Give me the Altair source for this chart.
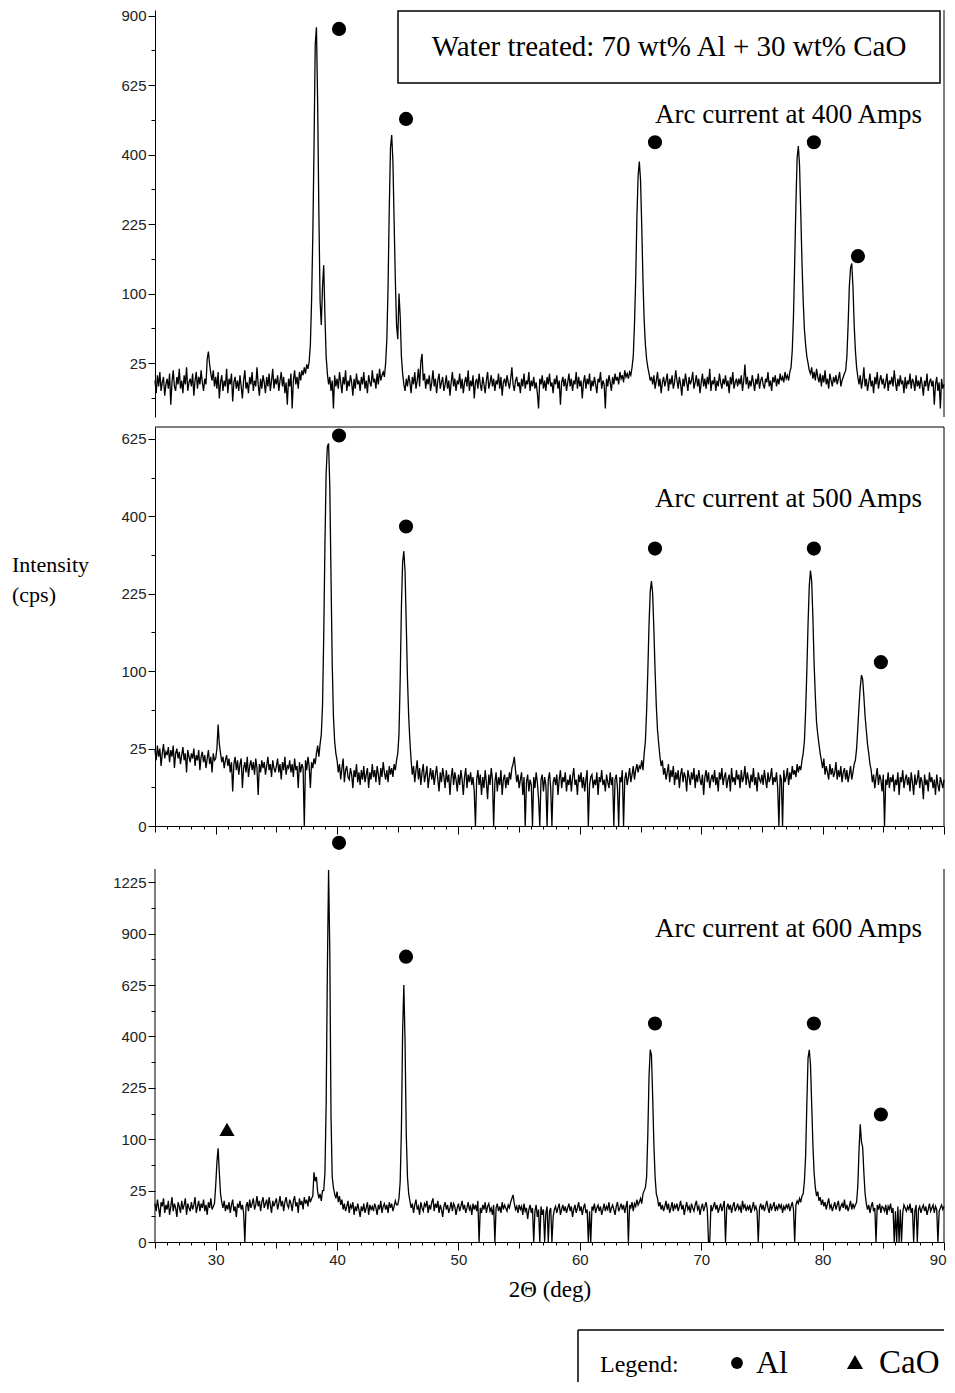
import altair as alt
import pandas as pd

# ---------------- data (counts per second, scan 25.0 .. 90.0 deg, step 0.1) ----------------
X_START = 25.0
X_STEP = 0.1

p1_counts = [
    14, 8, 17, 11, 19, 9, 13, 16, 7, 12,            # 25
    15, 10, 18, 4, 13, 20, 11, 9, 16, 12,           # 26
    21, 10, 14, 8, 17, 12, 22, 9, 13, 15,           # 27
    11, 18, 7, 14, 19, 10, 16, 12, 20, 13,          # 28
    9, 15, 12, 28, 34, 24, 18, 14, 20, 11,          # 29
    16, 10, 19, 6, 13, 17, 9, 14, 11, 21,           # 30
    8, 15, 12, 18, 5, 13, 16, 10, 14, 9,            # 31
    17, 11, 6, 14, 20, 10, 13, 8, 16, 12,           # 32
    19, 9, 14, 11, 22, 12, 7, 15, 10, 17,           # 33
    13, 8, 16, 11, 18, 9, 14, 21, 10, 15,           # 34
    12, 17, 9, 14, 19, 11, 16, 8, 13, 4,            # 35
    15, 11, 18, 3, 14, 20, 12, 16, 10, 19,          # 36
    14, 20, 17, 22, 18, 24, 21, 26, 40, 90,         # 37
    200, 420, 780, 850, 560, 250, 90, 60, 110, 145, # 38
    70, 30, 18, 12, 16, 9, 14, 3, 17, 11,           # 39
    15, 10, 19, 13, 8, 16, 12, 20, 9, 14,           # 40
    11, 17, 13, 7, 15, 10, 18, 12, 14, 9,           # 41
    16, 12, 19, 10, 14, 8, 17, 13, 11, 20,          # 42
    13, 15, 10, 18, 12, 21, 14, 17, 19, 16,         # 43
    25, 45, 110, 260, 420, 458, 380, 230, 120, 60,  # 44
    45, 100, 70, 30, 18, 12, 9, 15, 11, 17,         # 45
    13, 8, 16, 12, 19, 10, 14, 21, 11, 26,          # 46
    32, 14, 18, 10, 15, 12, 17, 9, 13, 20,          # 47
    11, 15, 8, 14, 18, 10, 13, 16, 9, 12,           # 48
    17, 10, 14, 7, 13, 19, 11, 15, 9, 14,           # 49
    12, 18, 10, 15, 8, 13, 16, 11, 20, 9,           # 50
    14, 11, 17, 6, 13, 15, 10, 18, 12, 9,           # 51
    16, 12, 8, 14, 19, 10, 13, 17, 11, 15,          # 52
    9, 14, 12, 18, 10, 16, 7, 13, 15, 11,           # 53
    17, 13, 10, 15, 22, 12, 9, 14, 16, 11,          # 54
    13, 8, 15, 11, 18, 10, 14, 12, 19, 9,           # 55
    14, 11, 16, 10, 13, 8, 3, 15, 12, 17,           # 56
    10, 14, 9, 16, 12, 18, 11, 13, 8, 15,           # 57
    12, 17, 10, 14, 4, 13, 16, 11, 15, 9,           # 58
    13, 18, 11, 15, 9, 14, 12, 19, 10, 16,          # 59
    11, 14, 6, 13, 17, 10, 15, 12, 18, 9,           # 60
    14, 11, 16, 12, 8, 15, 13, 19, 10, 14,          # 61
    12, 3, 15, 11, 17, 13, 9, 16, 12, 18,           # 62
    14, 16, 12, 19, 15, 17, 13, 20, 16, 18,         # 63
    15, 19, 17, 22, 30, 60, 120, 240, 340, 380,     # 64
    330, 220, 120, 65, 40, 28, 22, 18, 14, 16,      # 65
    12, 17, 10, 14, 19, 11, 15, 8, 13, 16,          # 66
    11, 14, 18, 9, 15, 12, 17, 10, 13, 20,          # 67
    14, 10, 16, 12, 7, 15, 11, 18, 13, 9,           # 68
    16, 12, 14, 19, 10, 13, 17, 11, 15, 8,          # 69
    13, 18, 11, 15, 10, 16, 12, 21, 9, 14,          # 70
    12, 16, 9, 14, 11, 18, 13, 10, 15, 12,          # 71
    17, 11, 14, 8, 16, 12, 19, 10, 13, 15,          # 72
    11, 15, 12, 17, 9, 14, 24, 12, 16, 10,          # 73
    14, 11, 17, 13, 9, 15, 12, 18, 10, 14,          # 74
    16, 12, 10, 15, 13, 19, 11, 14, 9, 16,          # 75
    13, 17, 11, 15, 12, 18, 14, 16, 13, 19,         # 76
    15, 17, 14, 19, 22, 35, 70, 150, 270, 390,      # 77
    425, 370, 250, 150, 90, 55, 40, 30, 25, 20,     # 78
    18, 22, 15, 19, 14, 21, 16, 13, 18, 11,         # 79
    17, 13, 20, 12, 15, 10, 18, 14, 11, 16,         # 80
    13, 17, 12, 15, 19, 11, 14, 16, 18, 20,         # 81
    30, 60, 110, 140, 148, 110, 60, 35, 22, 16,     # 82
    12, 17, 10, 14, 22, 11, 15, 9, 13, 18,          # 83
    11, 14, 8, 16, 12, 19, 10, 14, 17, 12,          # 84
    15, 10, 13, 18, 9, 14, 12, 16, 11, 20,          # 85
    13, 9, 15, 11, 17, 12, 14, 8, 16, 10,           # 86
    14, 12, 18, 10, 15, 13, 9, 17, 11, 14,          # 87
    10, 16, 12, 7, 14, 11, 18, 9, 13, 15,           # 88
    11, 14, 4, 12, 16, 9, 13, 3, 15, 10,            # 89
    12,                                             # 90
]

p2_counts = [
    24, 18, 27, 20, 25, 15, 22, 28, 19, 23,         # 25
    21, 26, 17, 24, 20, 27, 14, 22, 25, 19,         # 26
    23, 16, 21, 26, 18, 22, 12, 24, 20, 17,         # 27
    22, 19, 25, 15, 21, 18, 24, 13, 20, 23,         # 28
    17, 21, 14, 19, 24, 16, 20, 12, 22, 18,         # 29
    19, 25, 43, 28, 22, 17, 20, 14, 18, 21,         # 30
    15, 19, 12, 17, 5, 16, 20, 13, 18, 11,          # 31
    16, 19, 6, 14, 17, 12, 20, 10, 15, 18,          # 32
    13, 17, 11, 19, 14, 4, 16, 12, 18, 14,          # 33
    17, 11, 15, 20, 13, 16, 10, 18, 14, 12,         # 34
    15, 19, 12, 16, 9, 17, 13, 20, 11, 15,          # 35
    14, 18, 12, 16, 10, 19, 13, 15, 6, 17,          # 36
    12, 16, 14, 0, 18, 13, 20, 15, 6, 17,           # 37
    14, 19, 16, 22, 27, 20, 28, 35, 60, 150,        # 38
    330, 520, 600, 610, 480, 260, 110, 50, 30, 22,  # 39
    18, 12, 16, 9, 14, 19, 8, 13, 15, 10,           # 40
    9, 14, 11, 6, 13, 10, 16, 8, 12, 7,             # 41
    13, 9, 15, 8, 11, 14, 6, 12, 9, 16,             # 42
    10, 13, 8, 15, 11, 7, 14, 10, 17, 12,           # 43
    9, 13, 8, 15, 11, 14, 10, 16, 13, 18,           # 44
    22, 35, 90, 200, 290, 315, 270, 170, 90, 50,    # 45
    30, 18, 11, 15, 8, 13, 18, 9, 14, 7,            # 46
    12, 16, 8, 11, 15, 6, 10, 14, 9, 13,            # 47
    7, 11, 15, 9, 5, 12, 8, 14, 10, 6,              # 48
    13, 8, 11, 4, 10, 14, 7, 12, 9, 5,              # 49
    11, 7, 13, 9, 4, 10, 14, 6, 11, 8,              # 50
    12, 7, 10, 5, 0, 9, 13, 7, 11, 4,               # 51
    10, 6, 13, 8, 3, 11, 7, 14, 9, 0,               # 52
    8, 12, 5, 10, 7, 13, 4, 9, 11, 6,               # 53
    10, 7, 12, 9, 14, 16, 20, 13, 8, 11,            # 54
    6, 9, 12, 4, 10, 0, 8, 11, 5, 9,                # 55
    7, 0, 10, 6, 12, 8, 3, 0, 9, 11,                # 56
    5, 10, 7, 0, 9, 12, 6, 0, 8, 10,                # 57
    7, 11, 4, 9, 13, 6, 10, 8, 12, 5,               # 58
    9, 7, 11, 5, 10, 14, 7, 9, 4, 11,               # 59
    8, 12, 6, 10, 5, 9, 13, 0, 7, 10,               # 60
    11, 6, 9, 7, 12, 4, 10, 8, 13, 7,               # 61
    9, 5, 11, 8, 6, 12, 7, 10, 0, 9,                # 62
    11, 6, 0, 10, 8, 13, 0, 9, 12, 7,               # 63
    10, 14, 8, 11, 15, 9, 13, 16, 12, 15,           # 64
    14, 18, 13, 22, 30, 55, 100, 170, 230, 250,     # 65
    225, 160, 100, 60, 38, 28, 20, 15, 18, 11,      # 66
    14, 9, 12, 16, 8, 13, 10, 15, 7, 12,            # 67
    9, 13, 6, 11, 14, 8, 12, 10, 5, 13,             # 68
    10, 7, 12, 9, 14, 6, 11, 8, 13, 9,              # 69
    7, 11, 4, 10, 13, 8, 12, 6, 9, 11,              # 70
    8, 13, 7, 10, 5, 12, 9, 14, 7, 10,              # 71
    12, 6, 9, 11, 5, 14, 8, 10, 7, 13,              # 72
    9, 11, 6, 13, 8, 10, 15, 7, 12, 9,              # 73
    6, 11, 8, 14, 7, 10, 5, 12, 9, 8,               # 74
    11, 7, 13, 9, 6, 12, 8, 10, 14, 7,              # 75
    10, 8, 12, 6, 0, 11, 9, 0, 13, 8,               # 76
    10, 14, 7, 12, 9, 15, 11, 13, 10, 16,           # 77
    12, 15, 13, 18, 22, 30, 55, 100, 170, 240,      # 78
    272, 250, 180, 110, 70, 45, 35, 28, 22, 18,     # 79
    14, 19, 11, 15, 12, 9, 16, 11, 14, 10,          # 80
    12, 17, 9, 13, 10, 15, 8, 12, 14, 9,            # 81
    13, 8, 11, 15, 9, 12, 16, 18, 25, 40,           # 82
    60, 80, 95, 90, 70, 50, 38, 28, 22, 16,         # 83
    13, 8, 11, 6, 10, 14, 7, 11, 9, 5,              # 84
    11, 0, 9, 7, 12, 6, 10, 8, 11, 5,               # 85
    9, 7, 12, 4, 10, 8, 13, 6, 9, 11,               # 86
    7, 10, 5, 12, 8, 4, 11, 7, 9, 13,               # 87
    6, 10, 8, 3, 11, 7, 9, 5, 12, 8,                # 88
    10, 6, 9, 4, 11, 7, 5, 10, 8, 6,                # 89
    9,                                              # 90
]

p3_counts = [
    14, 9, 17, 11, 6, 15, 12, 18, 8, 13,            # 25
    10, 16, 7, 12, 19, 9, 14, 11, 6, 15,            # 26
    12, 8, 16, 10, 13, 18, 7, 14, 11, 9,            # 27
    15, 10, 13, 19, 8, 12, 16, 9, 14, 11,           # 28
    17, 9, 13, 7, 15, 11, 18, 10, 12, 14,           # 29
    30, 60, 83, 45, 22, 15, 11, 16, 9, 13,          # 30
    10, 15, 8, 13, 17, 9, 12, 6, 14, 11,            # 31
    16, 10, 13, 8, 0, 12, 15, 9, 17, 11,            # 32
    14, 18, 10, 13, 20, 12, 16, 9, 15, 19,          # 33
    11, 14, 17, 10, 19, 13, 8, 16, 12, 15,          # 34
    18, 10, 14, 20, 12, 16, 9, 15, 19, 13,          # 35
    11, 17, 14, 9, 16, 20, 12, 15, 8, 18,           # 36
    13, 16, 10, 19, 14, 17, 12, 20, 15, 18,         # 37
    20, 46, 35, 40, 24, 18, 22, 16, 25, 25,         # 38
    45, 180, 700, 1310, 800, 150, 40, 28, 22, 18,   # 39
    24, 15, 20, 13, 17, 10, 14, 9, 12, 16,          # 40
    8, 13, 11, 15, 7, 12, 9, 14, 10, 6,             # 41
    12, 9, 14, 8, 11, 15, 7, 13, 10, 12,            # 42
    9, 14, 11, 7, 13, 10, 16, 8, 12, 14,            # 43
    10, 13, 8, 15, 11, 14, 9, 12, 16, 13,           # 44
    13, 18, 35, 120, 420, 625, 380, 110, 40, 22,    # 45
    16, 11, 14, 8, 13, 17, 10, 12, 7, 15,           # 46
    11, 9, 14, 12, 16, 8, 13, 10, 15, 18,           # 47
    9, 14, 11, 16, 8, 13, 10, 6, 12, 15,            # 48
    10, 13, 8, 11, 15, 9, 14, 12, 7, 11,            # 49
    14, 9, 12, 16, 10, 13, 8, 11, 15, 10,           # 50
    12, 7, 14, 10, 13, 9, 16, 0, 11, 8,             # 51
    13, 10, 15, 8, 12, 14, 9, 11, 7, 13,            # 52
    0, 11, 14, 9, 12, 8, 15, 10, 13, 11,            # 53
    9, 13, 11, 15, 18, 21, 14, 10, 12, 8,           # 54
    13, 10, 12, 7, 14, 9, 11, 5, 10, 13,            # 55
    8, 11, 0, 9, 13, 6, 10, 0, 12, 7,               # 56
    10, 0, 8, 12, 0, 9, 11, 0, 6, 10,               # 57
    12, 8, 11, 14, 7, 10, 13, 9, 12, 8,             # 58
    11, 14, 9, 12, 6, 10, 13, 8, 11, 15,            # 59
    9, 12, 7, 11, 14, 8, 10, 0, 9, 0,               # 60
    12, 10, 14, 8, 11, 13, 9, 12, 7, 10,            # 61
    14, 9, 12, 10, 15, 8, 11, 13, 10, 7,            # 62
    12, 15, 9, 11, 14, 10, 13, 8, 12, 16,           # 63
    0, 13, 11, 15, 9, 14, 12, 17, 13, 15,           # 64
    18, 14, 22, 25, 28, 40, 110, 260, 350, 330,     # 65
    200, 90, 40, 22, 18, 12, 15, 10, 13, 9,         # 66
    12, 16, 10, 14, 8, 11, 15, 9, 13, 11,           # 67
    14, 9, 12, 16, 10, 13, 7, 11, 15, 10,           # 68
    12, 8, 14, 11, 9, 13, 16, 10, 12, 7,            # 69
    11, 14, 9, 12, 15, 10, 0, 0, 13, 9,             # 70
    12, 15, 10, 13, 8, 11, 14, 9, 12, 16,           # 71
    0, 11, 14, 10, 13, 8, 12, 15, 9, 11,            # 72
    14, 10, 12, 8, 16, 11, 13, 9, 12, 10,           # 73
    13, 8, 11, 15, 10, 12, 9, 0, 11, 14,            # 74
    10, 13, 9, 12, 16, 11, 8, 14, 10, 12,           # 75
    15, 9, 12, 10, 14, 11, 13, 8, 12, 10,           # 76
    13, 11, 14, 9, 12, 15, 10, 0, 13, 16,           # 77
    14, 18, 15, 20, 22, 35, 70, 180, 320, 350,      # 78
    300, 180, 90, 45, 28, 20, 24, 16, 19, 13,       # 79
    17, 12, 15, 10, 14, 18, 11, 13, 9, 12,          # 80
    15, 10, 13, 16, 9, 12, 14, 11, 17, 10,          # 81
    13, 9, 12, 16, 10, 14, 11, 13, 15, 30,          # 82
    80, 131, 95, 85, 45, 22, 14, 10, 13, 8,         # 83
    12, 15, 9, 11, 0, 13, 10, 14, 8, 12,            # 84
    11, 9, 13, 7, 12, 10, 14, 8, 11, 0,             # 85
    9, 0, 12, 0, 10, 0, 8, 13, 11, 9,               # 86
    12, 10, 14, 8, 11, 0, 9, 13, 0, 10,             # 87
    12, 8, 11, 13, 9, 12, 7, 10, 14, 9,             # 88
    11, 13, 8, 12, 10, 0, 9, 11, 13, 10,            # 89
    12,                                             # 90
]

# phase markers (position in deg, height in cps)
p1_al_x = [40.16, 45.68, 66.19, 79.28, 82.91]
p1_al_y = [843, 509, 436, 436, 161]
p2_al_x = [40.16, 45.68, 66.19, 79.28, 84.8]
p2_al_y = [636, 374, 321, 321, 112]
p3_al_x = [40.16, 45.68, 66.19, 79.28, 84.8]
p3_al_y = [1509, 771, 452, 452, 154]
p3_cao_x = [30.93]
p3_cao_y = [120]

# tick values
x_ticks = list(range(25, 91))
y_ticks_1 = [6.25, 25, 56.25, 100, 156.25, 225, 306.25, 400, 506.25, 625, 756.25, 900]
y_ticks_2 = [0, 6.25, 25, 56.25, 100, 156.25, 225, 306.25, 400, 506.25, 625]
y_ticks_3 = [0, 6.25, 25, 56.25, 100, 156.25, 225, 306.25, 400, 506.25, 625,
             756.25, 900, 1056.25, 1225]

# texts
title_text = "Water treated: 70 wt% Al + 30 wt% CaO"
panel_labels = ["Arc current at 400 Amps", "Arc current at 500 Amps", "Arc current at 600 Amps"]
y_title_lines = ["Intensity", "(cps)"]
x_title = "2Θ (deg)"

# ---------------- layout / style ----------------
W = 789
H1, H2 = 407, 399
H3 = 406          # includes 33 px of empty band above the third frame
OFF3 = 33         # start of the third frame inside its cell
DOM1 = [1.25, 924]
DOM2 = [0, 664]
DOM3 = [0, 1561]
SERIF = "Liberation Serif"
SANS = "Liberation Sans"
ONE = alt.Data(values=[{}])


def trace_df(counts):
    assert len(counts) == 651, len(counts)
    return pd.DataFrame({
        "two_theta": [round(X_START + i * X_STEP, 1) for i in range(len(counts))],
        "cps": counts,
    })


def y_axis(values, domain=True):
    return alt.Axis(
        values=values, tickCount=500,
        labelExpr="datum.value % 25 == 0 ? format(datum.value, 'd') : ''",
        tickSize={"condition": {"test": "datum.value % 25 == 0", "value": 7}, "value": 4},
        labelFont=SANS, labelFontSize=15, labelColor="#222", labelPadding=2,
        domain=domain, domainColor="black", tickColor="black", grid=False, title=None,
        labelOverlap=False, labelFlush=False,
    )


def x_axis(show_labels):
    kw = dict(
        values=x_ticks, tickCount=500,
        tickSize={"condition": [
            {"test": "datum.value % 10 == 0", "value": 8},
            {"test": "datum.value % 5 == 0", "value": 6}], "value": 3},
        domainColor="black", tickColor="black", grid=False, labelOverlap=False,
        labelFlush=True, labelFlushOffset=2,
    )
    if show_labels:
        kw.update(
            labelExpr="datum.value % 10 == 0 ? format(datum.value, 'd') : ''",
            labelFont=SANS, labelFontSize=15, labelColor="#222", labelPadding=2,
            title=x_title, titleFont=SERIF, titleFontSize=23, titleFontWeight="normal",
            titleColor="black", titlePadding=11,
        )
    else:
        kw.update(labels=False, title=None)
    return alt.Axis(**kw)


def text_layer(txt, x, y, size, align="left"):
    return alt.Chart(ONE).mark_text(
        text=txt, font=SERIF, fontSize=size, color="black", align=align, baseline="middle"
    ).encode(x=alt.value(x), y=alt.value(y))


def vrule(x, y0, y1, width=1.0):
    return alt.Chart(ONE).mark_rule(color="black", strokeWidth=width).encode(
        x=alt.value(x), y=alt.value(y0), y2=alt.value(y1))


def hrule(x0, x1, y, width=1.0):
    return alt.Chart(ONE).mark_rule(color="black", strokeWidth=width).encode(
        x=alt.value(x0), x2=alt.value(x1), y=alt.value(y))


def panel(counts, dom, H, yaxis, xaxis, al_x, al_y, label, label_y, top=0, extra=()):
    xenc = alt.X("two_theta:Q", scale=alt.Scale(domain=[25, 90], nice=False, zero=False), axis=xaxis)
    yenc = alt.Y("cps:Q", scale=alt.Scale(type="sqrt", domain=dom, nice=False, zero=False),
                 axis=yaxis)
    line = alt.Chart(trace_df(counts)).mark_line(color="black", strokeWidth=1.3).encode(x=xenc, y=yenc)
    dots = alt.Chart(pd.DataFrame({"two_theta": al_x, "cps": al_y})).mark_point(
        shape="circle", filled=True, size=200, color="black", opacity=1
    ).encode(x="two_theta:Q", y="cps:Q")
    right = vrule(W, top, H)
    lab = text_layer(label, 767, label_y, 27, align="right")
    return alt.layer(line, dots, right, lab, *extra).properties(width=W, height=H)


# panel 1 extras: title box
box = alt.Chart(ONE).mark_rect(fill="white", stroke="black", strokeWidth=1.5).encode(
    x=alt.value(243), x2=alt.value(785), y=alt.value(1), y2=alt.value(73))
title = text_layer(title_text, 514, 37, 29, align="center")
p1 = panel(p1_counts, DOM1, H1, y_axis(y_ticks_1), None, p1_al_x, p1_al_y, panel_labels[0], 105,
           extra=(box, title))

# panel 2 extras: top frame line, y title
yt1 = text_layer(y_title_lines[0], -143, 138, 22)
yt2 = text_layer(y_title_lines[1], -143, 168, 22)
p2 = panel(p2_counts, DOM2, H2, y_axis(y_ticks_2), x_axis(False), p2_al_x, p2_al_y,
           panel_labels[1], 72, extra=(hrule(0, W, 0), yt1, yt2))

# panel 3 extras: left frame line, CaO marker, legend
tri = alt.Chart(pd.DataFrame({"two_theta": p3_cao_x, "cps": p3_cao_y})).mark_point(
    shape="triangle-up", filled=True, size=230, color="black", opacity=1
).encode(x="two_theta:Q", y="cps:Q")
LG = OFF3 + 461
leg_txt = text_layer("Legend:", 445, LG + 35, 24)
leg_dot = alt.Chart(ONE).mark_point(shape="circle", filled=True, size=140, color="black",
                                    opacity=1).encode(x=alt.value(582), y=alt.value(LG + 33))
leg_al = text_layer("Al", 601, LG + 33, 32)
leg_tri = alt.Chart(ONE).mark_point(shape="triangle-up", filled=True, size=260, color="black",
                                    opacity=1).encode(x=alt.value(700), y=alt.value(LG + 32))
leg_cao = text_layer("CaO", 724, LG + 33, 33)
p3 = panel(p3_counts, DOM3, H3, y_axis(y_ticks_3, domain=False), x_axis(True), p3_al_x, p3_al_y,
           panel_labels[2], OFF3 + 60, top=OFF3,
           extra=(vrule(0, OFF3, H3), tri, hrule(423, 789, LG, 1.5), vrule(423, LG, LG + 52, 1.5),
                  leg_txt, leg_dot, leg_al, leg_tri, leg_cao))

chart = alt.vconcat(p1, p2, p3, spacing=10, bounds="flush").properties(
    padding={"left": 4, "top": 0, "right": 0, "bottom": 0}
).configure_view(stroke=None)

chart.save("out.html", embed_options={"renderer": "svg", "actions": False})
